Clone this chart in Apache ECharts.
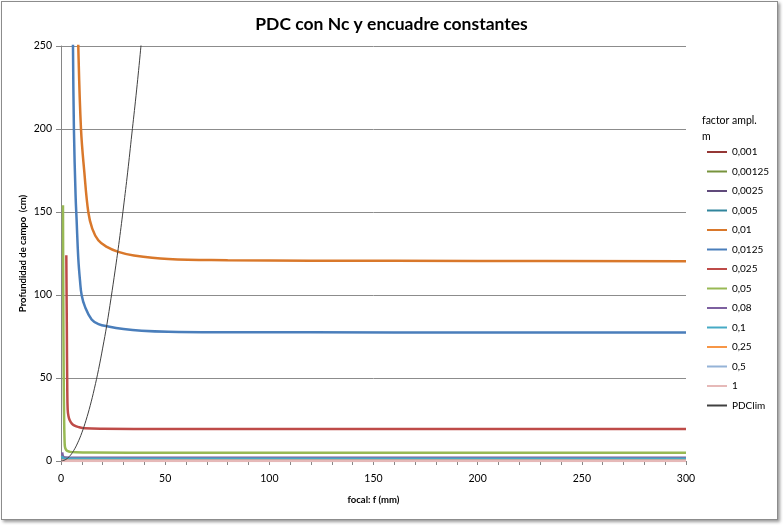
<!DOCTYPE html>
<html>
<head>
<meta charset="utf-8">
<title>PDC con Nc y encuadre constantes</title>
<script src="https://cdn.jsdelivr.net/npm/echarts@6/dist/echarts.min.js"></script>
<style>
html, body { margin: 0; padding: 0; background: #fff; }
#frame {
  position: absolute; left: 1px; top: 1px; width: 775px; height: 517px;
  border: 1px solid #8c8c8c; box-shadow: 2px 2px 3px #9a9a9a; background: #fff;
}
#chart { position: absolute; left: 0; top: 0; width: 783px; height: 525px; }
</style>
</head>
<body>
<div id="frame"></div>
<div id="chart"></div>
<script>
// factor de ampliación m (legend order)
const names = ['0,001', '0,00125', '0,0025', '0,005', '0,01', '0,0125', '0,025',
  '0,05', '0,08', '0,1', '0,25', '0,5', '1', 'PDClim'];
const colors = ['#953735', '#77933c', '#604a7b', '#31859c', '#d9782b', '#4a7ebb', '#be4b48',
  '#98b954', '#7d60a0', '#46aac5', '#f79646', '#95b3d7', '#e6b9b8', '#404040'];

// [focal f (mm), PDC (cm)]; first four stay above 250
const m0001 = [[1, 9000], [50, 7600], [300, 7500]];
const m000125 = [[1, 6000], [50, 4900], [300, 4800]];
const m00025 = [[1, 1600], [50, 1210], [300, 1200]];
const m0005 = [[1, 800], [50, 485], [300, 480]];
const m001 = [[7.6, 300], [8.3, 250], [9.6, 200], [11.2, 174], [13.1, 150], [15, 140],
  [17.9, 133], [22, 129], [27.5, 126], [35, 123.8], [51.5, 121.7], [80, 121], [120, 120.7],
  [200, 120.5], [300, 120.4]];
const m00125 = [[5.4, 300], [5.75, 250], [6.2, 200], [7, 160], [7.5, 145], [8.3, 122],
  [9.1, 109], [9.9, 100], [11.5, 93], [14.7, 85.3], [18, 82.5], [22.7, 81], [30, 79.5],
  [38.7, 78.5], [51.5, 77.9], [80, 77.6], [120, 77.5], [200, 77.4], [300, 77.4]];
const m0025 = [[2.55, 124], [2.8, 80], [3, 45], [3.2, 31], [3.6, 27], [4.2, 24.5],
  [5.1, 22.7], [6.5, 21.3], [8.5, 20.4], [11.5, 19.7], [20, 19.4], [50, 19.3], [100, 19.3],
  [300, 19.3]];
const m005 = [[0.95, 154], [1.1, 100], [1.3, 50], [1.5, 25], [1.7, 13], [1.9, 8.5],
  [2.5, 6.6], [3.3, 5.9], [4.3, 5.5], [7, 5.2], [15, 5.05], [50, 5], [300, 5]];
const m008 = [[0.6, 5.2], [0.8, 3.5], [1.2, 2.5], [2, 2.1], [4, 2], [300, 2]];
const m01 = [[0.5, 3], [0.8, 2], [1.5, 1.4], [3, 1.3], [300, 1.3]];
const m025 = [[0.4, 0.6], [1, 0.35], [3, 0.3], [300, 0.3]];
const m05 = [[0.3, 0.2], [1, 0.12], [3, 0.1], [300, 0.1]];
const m1 = [[0.2, 0.06], [1, 0.04], [3, 0.03], [300, 0.03]];
const pdclim = [[0, 0], [2, 0.7], [4, 2.7], [6, 6.1], [8, 10.9], [10, 17], [12, 24.5],
  [14, 33.3], [16, 43.5], [18, 55], [20, 68], [22, 82], [24, 98], [26, 115], [28, 133],
  [30, 153], [32, 174], [34, 197], [36, 220], [38, 245], [40, 272]];

const seriesData = [m0001, m000125, m00025, m0005, m001, m00125, m0025,
  m005, m008, m01, m025, m05, m1, pdclim];

const xTicks = [0, 50, 100, 150, 200, 250, 300];
const yTicks = [0, 50, 100, 150, 200, 250];

const font = 'Lato, "Liberation Sans", sans-serif';
let chart = echarts.init(document.getElementById('chart'));

let option = {
  backgroundColor: 'transparent',
  animation: false,
  color: colors,
  title: {
    text: 'PDC con Nc y encuadre constantes',
    left: 'center',
    top: 10,
    textStyle: { fontFamily: font, fontSize: 17.5, fontWeight: 'bold', color: '#000' }
  },
  graphic: [
    {
      type: 'text', left: 702, top: 113,
      style: { text: 'factor ampl.\nm', fontFamily: font, fontSize: 10.5, lineHeight: 16, fill: '#000' }
    }
  ],
  legend: {
    orient: 'vertical',
    left: 707,
    top: 146,
    padding: 0,
    icon: 'rect',
    itemWidth: 20,
    itemHeight: 2,
    itemGap: 7.5,
    data: names,
    textStyle: { fontFamily: font, fontSize: 10, lineHeight: 12, color: '#000' }
  },
  grid: {
    left: 61,
    right: 97,
    top: 46,
    bottom: 64,
    containLabel: false
  },
  xAxis: {
    type: 'value',
    min: xTicks[0],
    max: xTicks[xTicks.length - 1],
    interval: 50,
    name: 'focal: f (mm)',
    nameLocation: 'middle',
    nameGap: 34,
    nameMoveOverlap: false,
    nameTextStyle: { fontFamily: font, fontSize: 9.5, fontWeight: 'bold', color: '#000' },
    axisLine: { lineStyle: { color: '#868686', width: 1 } },
    axisTick: { length: 4, lineStyle: { color: '#868686' } },
    minorTick: { show: true, splitNumber: 5, length: 4, lineStyle: { color: '#868686' } },
    axisLabel: { fontFamily: font, fontSize: 10.5, color: '#000', margin: 12 },
    splitLine: { show: false }
  },
  yAxis: {
    type: 'value',
    min: yTicks[0],
    max: yTicks[yTicks.length - 1],
    interval: 50,
    name: 'Profundidad de campo  (cm)',
    nameLocation: 'middle',
    nameGap: 33,
    nameMoveOverlap: false,
    nameTextStyle: { fontFamily: font, fontSize: 9.5, fontWeight: 'bold', color: '#000' },
    axisLine: { show: true, lineStyle: { color: '#868686', width: 1 } },
    axisTick: { show: true, length: 5, lineStyle: { color: '#868686' } },
    axisLabel: { fontFamily: font, fontSize: 10.5, color: '#000', margin: 9 },
    splitLine: { lineStyle: { color: '#8c8c8c', width: 1 } }
  },
  series: names.map((n, i) => ({
    name: n,
    type: 'line',
    data: seriesData[i],
    showSymbol: false,
    smooth: 0.4,
    clip: true,
    lineStyle: { width: n === 'PDClim' ? 1 : 2.5, color: colors[i] },
    itemStyle: { color: colors[i] },
    z: n === 'PDClim' ? 3 : 2
  }))
};

chart.setOption(option);
</script>
</body>
</html>
